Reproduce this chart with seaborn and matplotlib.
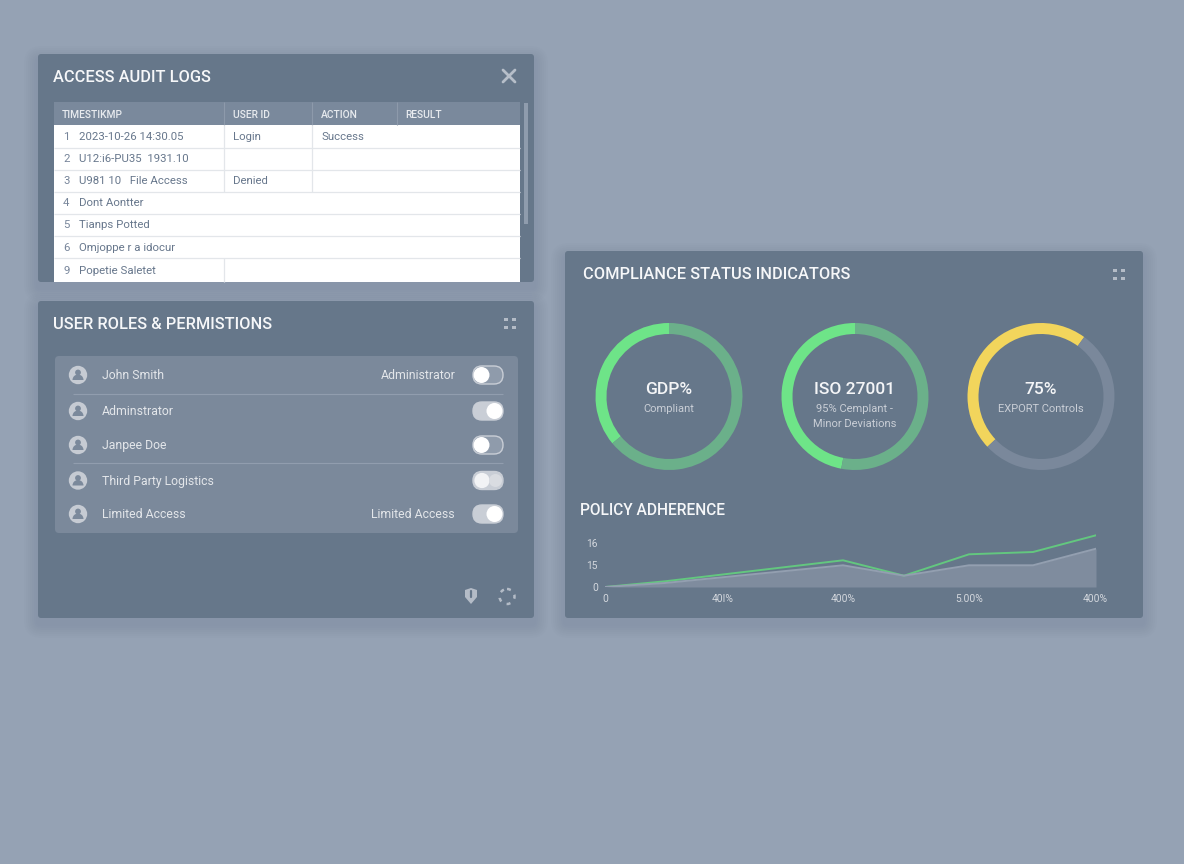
import numpy as np
import pandas as pd
import matplotlib
matplotlib.use("Agg")
import matplotlib.pyplot as plt
from matplotlib.patches import FancyBboxPatch, Rectangle, Circle, Wedge, Polygon
import seaborn as sns

# ---------- data ----------
table_headers = ["TIMESTIKMP", "USER ID", "ACTION", "RESULT"]
row_numbers = ["1", "2", "3", "4", "5", "6", "9"]
row_col1 = ["2023-10-26 14:30.05", "U12:i6-PU35  1931.10", "U981 10   File Access", "Dont Aontter",
            "Tianps Potted", "Omjoppe r a idocur", "Popetie Saletet"]
row_col2 = ["Login", "", "Denied", "", "", "", ""]
row_col3 = ["Success", "", "", "", "", "", ""]
user_names = ["John Smith", "Adminstrator", "Janpee Doe", "Third Party Logistics", "Limited Access"]
user_roles = ["Administrator", "", "", "", "Limited Access"]
toggle_states = [0, 1, 0, 0.5, 1]
gauge_titles = ["GDP%", "ISO 27001", "75%"]
gauge_subtitles = ["Compliant", "95% Cemplant -\nMinor Deviations", "EXPORT Controls"]
gauge_values = [[36, 64], [47, 53], [47, 53]]
policy_x = [0, 60, 238, 299, 364, 428, 491]
policy_green = [0, 5.7, 26.7, 11.3, 32.7, 35, 51.7]
policy_grey = [0, 4, 21.7, 11.3, 21.7, 21.7, 38.3]
policy_xticks = [0, 118, 238, 364, 490]
policy_xlabels = ["0", "40I%", "400%", "5.00%", "400%"]
policy_yticks = [0, 22, 44]
policy_ylabels = ["0", "15", "16"]

# ---------- style ----------
sns.set_theme(style="white")
plt.rcParams["font.family"] = ["Roboto", "DejaVu Sans"]
BG = "#95a2b4"; PANEL = "#66778a"; INNER = "#7b899b"; HEAD = "#7a899c"
W, H = 1184, 864
fig = plt.figure(figsize=(W / 100, H / 100), dpi=100, facecolor=BG)
ax = fig.add_axes([0, 0, 1, 1], zorder=0)
ax.set_xlim(0, W); ax.set_ylim(H, 0); ax.axis("off")

def rbox(x0, y0, x1, y1, r, fc, alpha=1, z=2, ec="none", lw=0):
    p = FancyBboxPatch((x0 + r, y0 + r), x1 - x0 - 2 * r, y1 - y0 - 2 * r,
                       boxstyle=f"round,pad={r},rounding_size={r}", fc=fc, ec=ec, lw=lw, alpha=alpha, zorder=z)
    ax.add_patch(p)

def txt(x, y, s, size, color="#ffffff", ha="left", weight="normal", z=8, **kw):
    ax.text(x, y, s, fontsize=size, color=color, ha=ha, va="center", fontweight=weight, zorder=z, **kw)

def title(x, y, s, size=11.8):
    txt(x, y, s, size, color="#f6f7f9", weight="medium")

def hline(x0, x1, y, color, lw=0.9, z=4):
    ax.plot([x0, x1], [y, y], color=color, lw=lw, zorder=z, solid_capstyle="butt")

def panel(x0, y0, x1, y1):
    for i in range(14, 0, -2):
        rbox(x0 - i, y0 - i + 6, x1 + i, y1 + i + 6, 4 + i, "#6d7b90", alpha=0.035, z=1)
    rbox(x0, y0, x1, y1, 3, PANEL, z=2)

panel(38, 54, 534, 282)
panel(38, 301, 534, 618)
panel(565, 251, 1143, 618)

def expand_icon(cx, cy):
    for dx in (-6, 2):
        for dy in (-5, 3):
            ax.add_patch(Rectangle((cx + dx, cy + dy), 4, 3, fc="#b4bcc7", ec="none", zorder=5))

# ---------- audit logs ----------
title(53, 77.5, "ACCESS AUDIT LOGS")
ax.plot([503, 515], [70, 82], color="#b6bec9", lw=2, zorder=5)
ax.plot([503, 515], [82, 70], color="#b6bec9", lw=2, zorder=5)
ax.add_patch(Rectangle((54, 102), 466, 23, fc=HEAD, ec="none", zorder=3))
ax.add_patch(Rectangle((54, 125), 466, 157, fc="#ffffff", ec="none", zorder=3))
ax.add_patch(Rectangle((523.5, 103), 4, 121, fc="#8f9cad", ec="none", zorder=3))
for x in (224, 312, 397):
    ax.plot([x, x], [102, 125], color="#8d9aab", lw=0.8, zorder=4, solid_capstyle="butt")
for x, h in zip((62, 233, 321, 405), table_headers):
    txt(x, 114.5, h, 7.4, color="#e8ebef", weight="medium")
row_y = [137.5, 159.5, 181.5, 203.5, 225.5, 248, 270.5]
for y in (148, 170, 192, 214, 236, 258):
    hline(54, 520, y, "#e3e6ea")
for x0, y0, y1 in ((224, 125, 192), (312, 125, 192), (224, 258, 282)):
    ax.plot([x0, x0], [y0, y1], color="#e3e6ea", lw=0.9, zorder=4, solid_capstyle="butt")
for y, n, a, b, c in zip(row_y, row_numbers, row_col1, row_col2, row_col3):
    txt(63, y, n, 8.2, color="#77859a")
    txt(79, y, a, 8.2, color="#67778c")
    txt(233, y, b, 8.2, color="#67778c")
    txt(322, y, c, 8.2, color="#67778c")

# ---------- user roles ----------
title(53, 324.5, "USER ROLES & PERMISTIONS")
expand_icon(510, 323)
rbox(55, 356, 518, 533, 4, INNER, z=3)
hline(73, 503, 393.5, "#919dae", 0.8)
hline(73, 503, 462.5, "#919dae", 0.8)
user_y = [375, 411, 445, 480.5, 514]
for y, name, role, state in zip(user_y, user_names, user_roles, toggle_states):
    ax.add_patch(Circle((78, y), 9.2, fc="#c6cbd3", ec="none", zorder=5))
    ax.add_patch(Circle((78, y - 2.5), 2.9, fc=INNER, ec="none", zorder=6))
    ax.add_patch(Wedge((78, y + 5), 5.5, 180, 360, fc=INNER, ec="none", zorder=6))
    txt(102, y + 0.5, name, 8.8, color="#e3e6ea")
    if role:
        txt(456 if role == "Administrator" else 455, y + 0.5, role, 8.8, color="#e3e6ea", ha="right")
    track = "#c9ced6" if state else "#8f9bab"
    rbox(473, y - 9, 503, y + 9, 8.9, track, z=5, ec="#c9ced6", lw=1)
    if state == 0.5:
        ax.add_patch(Circle((482, y), 7.6, fc="#f2f3f5", ec="none", zorder=6))
        ax.add_patch(Circle((495.5, y), 6.5, fc="#d9dce1", ec="none", zorder=6))
    else:
        ax.add_patch(Circle((494.5 if state else 481.5, y), 8, fc="#ffffff", ec="none", zorder=6))
ax.add_patch(Polygon([[465, 590], [471, 588], [477, 590], [477, 597], [471, 604], [465, 597]],
                     closed=True, fc="#b4bcc7", ec="none", zorder=5))
ax.plot([471, 471], [591, 597], color=PANEL, lw=1.6, zorder=6)
ax.add_patch(Circle((507, 596.5), 7.5, fc="none", ec="#b4bcc7", lw=1.8, ls=(0, (1.6, 2.4)), zorder=5))

# ---------- compliance ----------
title(583, 274.5, "COMPLIANCE STATUS INDICATORS")
expand_icon(1119, 274)
centers = [669, 855, 1041]
gauge_colors = [["#6ee488", "#6bb08a"], ["#6ee488", "#6bb08a"], ["#f2d55c", "#7a889b"]]
starts = [90, 90, 54]
R = 73.5
for cx, vals, cols, st, t, sub in zip(centers, gauge_values, gauge_colors, starts, gauge_titles, gauge_subtitles):
    a = fig.add_axes([(cx - R) / W, 1 - (396.5 + R) / H, 2 * R / W, 2 * R / H], zorder=2)
    a.pie(vals, colors=cols, startangle=st, counterclock=True, radius=1,
          wedgeprops=dict(width=11 / R, edgecolor="none"))
    a.set_xlim(-1, 1); a.set_ylim(-1, 1)
    a.patch.set_alpha(0)
    txt(cx, 390, t, 12.5, color="#f4f5f7", ha="center", weight="medium")
    for i, l in enumerate(sub.split("\n")):
        txt(cx, 409.5 + i * 14.5, l, 8, color="#c9ced6", ha="center")

# ---------- policy adherence ----------
title(580, 510.5, "POLICY ADHERENCE", 11.2)
df = pd.DataFrame({
    "x": policy_x * 2,
    "value": policy_green + policy_grey,
    "series": ["green"] * len(policy_x) + ["grey"] * len(policy_x),
})
lx0, lx1, ly0, ly1 = 605, 1096, 530, 587
la = fig.add_axes([lx0 / W, 1 - ly1 / H, (lx1 - lx0) / W, (ly1 - ly0) / H], zorder=3)
la.patch.set_alpha(0)
la.fill_between(policy_x, 0, policy_grey, color="#7f8c9e", lw=0)
sns.lineplot(data=df, x="x", y="value", hue="series", palette={"green": "#63c77f", "grey": "#939fb0"},
             hue_order=["green", "grey"], ax=la, legend=False, lw=1.4, errorbar=None, sort=False)
la.set_xlim(0, lx1 - lx0); la.set_ylim(0, ly1 - ly0)
la.set_xticks(policy_xticks); la.set_xticklabels(policy_xlabels)
la.set_yticks(policy_yticks); la.set_yticklabels(policy_ylabels)
la.set_xlabel(""); la.set_ylabel("")
la.tick_params(axis="both", length=0, labelsize=7.4, labelcolor="#d3d7dd")
la.tick_params(axis="x", pad=5); la.tick_params(axis="y", pad=5)
for s in la.spines.values():
    s.set_visible(False)

fig.savefig("out.png", dpi=100, facecolor=BG)
